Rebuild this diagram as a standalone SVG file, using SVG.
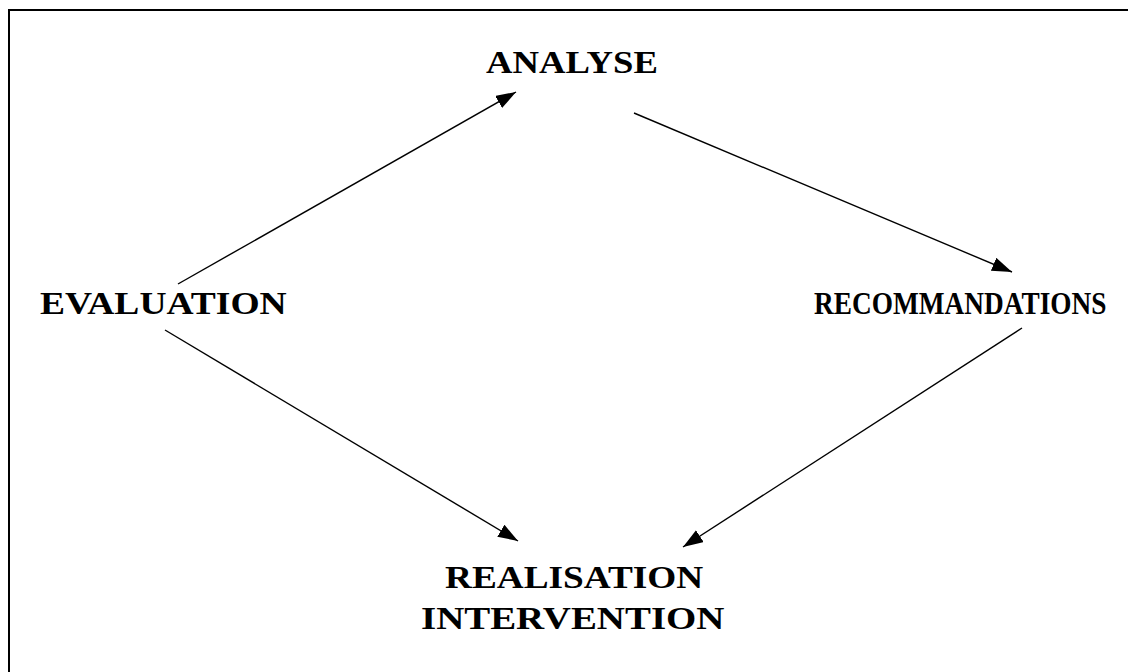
<svg xmlns="http://www.w3.org/2000/svg" width="1128" height="672" viewBox="0 0 1128 672">
<defs>
<style>
.lbl{font-family:"Liberation Serif","Times New Roman",serif;font-weight:bold;font-size:32px;fill:#000}
.edge{stroke:#000;stroke-width:1.4;fill:none;marker-end:url(#ah)}
</style>
<marker id="ah" markerUnits="userSpaceOnUse" markerWidth="22" markerHeight="16" refX="20" refY="7" orient="auto" viewBox="0 0 22 16">
<path d="M0,0 L20,7 L0,14 z" fill="#000"/>
</marker>
</defs>
<rect width="1128" height="672" fill="#fff"/>
<path d="M9,672 V10 H1128" stroke="#000" stroke-width="2" fill="none"/>
<g id="connectors">
<line class="edge" x1="178" y1="284" x2="516" y2="92"/>
<line class="edge" x1="634" y1="113" x2="1012" y2="272"/>
<line class="edge" x1="1022" y1="328" x2="683" y2="547"/>
<line class="edge" x1="165" y1="330" x2="518" y2="541"/>
</g>
<g id="analyse" transform="translate(486,73) scale(1.146,1)"><text class="lbl" x="0" y="0">ANALYSE</text></g>
<g id="evaluation" transform="translate(40,314) scale(1.173,1)"><text class="lbl" x="0" y="0">EVALUATION</text></g>
<g id="recommandations" transform="translate(814,314) scale(0.854,1)"><text class="lbl" x="0" y="0">RECOMMANDATIONS</text></g>
<g id="realisation">
<text class="lbl" transform="translate(445,588) scale(1.165,1)" x="0" y="0">REALISATION</text>
<text class="lbl" transform="translate(421,629) scale(1.216,1)" x="0" y="0">INTERVENTION</text>
</g>
</svg>
